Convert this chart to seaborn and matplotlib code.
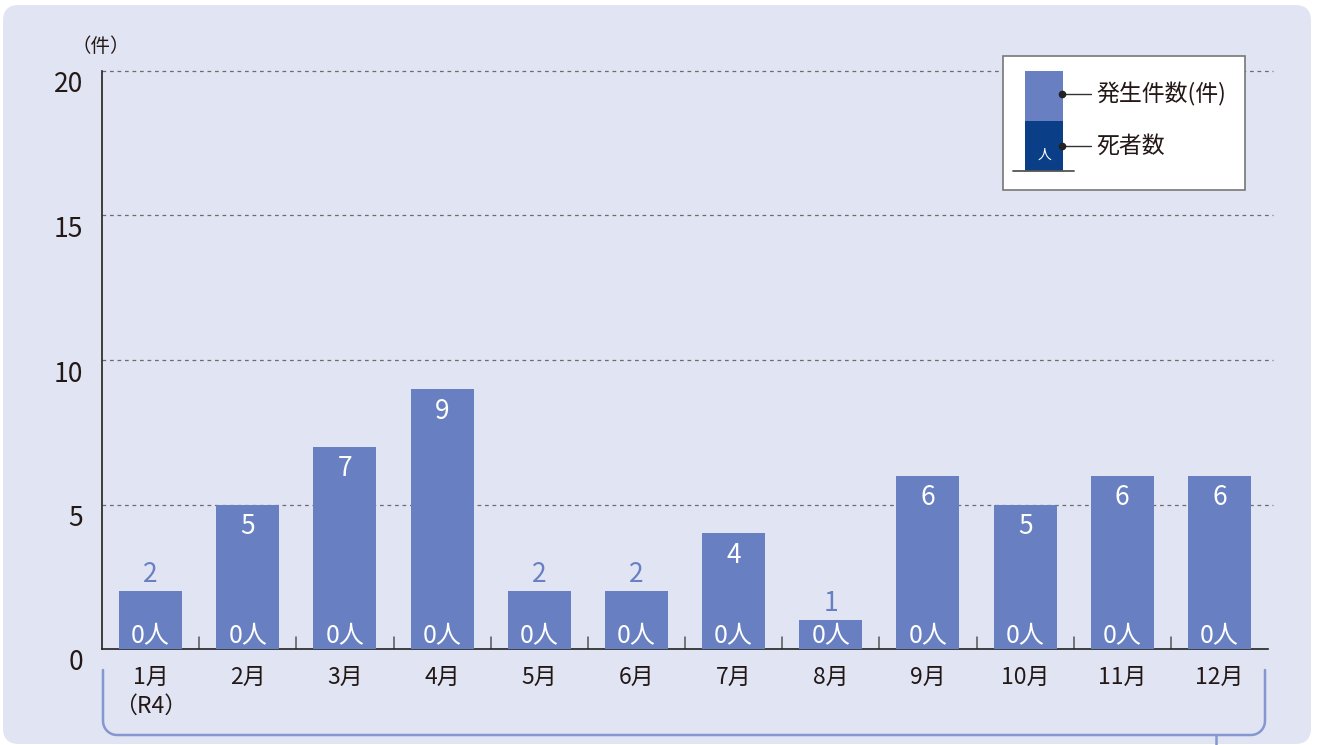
import matplotlib
matplotlib.use("Agg")
import matplotlib.pyplot as plt
import matplotlib.transforms as mtransforms
import seaborn as sns
import pandas as pd
import numpy as np
from matplotlib.patches import FancyBboxPatch, Rectangle
from matplotlib.lines import Line2D

months = ["1月", "2月", "3月", "4月", "5月", "6月", "7月", "8月", "9月", "10月", "11月", "12月"]
tick_labels = ["1月\n（R4）", "2月", "3月", "4月", "5月", "6月", "7月", "8月", "9月", "10月", "11月", "12月"]
cases = [2, 5, 7, 9, 2, 2, 4, 1, 6, 5, 6, 6]
deaths = [0, 0, 0, 0, 0, 0, 0, 0, 0, 0, 0, 0]
y_ticks = [0, 5, 10, 15, 20]

BG = "#e1e4f2"
BAR = "#687fc2"
DARK = "#0a3f87"
BRACKET = "#8597cf"
TXT = "#231815"

sns.set_theme(style="white")
plt.rcParams["font.family"] = ["Noto Sans CJK JP", "DejaVu Sans"]

W, H = 1317, 745
fig = plt.figure(figsize=(W / 100, H / 100), dpi=100)
fig.patch.set_facecolor("white")


def fx(x):
    return x / W


def fy(y):
    return 1 - y / H


# rounded panel background
panel = FancyBboxPatch((fx(3), fy(744)), 1308 / W, 739 / H,
                       boxstyle="round,pad=0,rounding_size=0.012",
                       transform=fig.transFigure, facecolor=BG, edgecolor="none",
                       mutation_aspect=W / H, zorder=-5)
fig.add_artist(panel)

ax_l, ax_r, ax_b, ax_t = 102, 1268, 649, 71
ax = fig.add_axes([ax_l / W, 1 - ax_b / H, (ax_r - ax_l) / W, (ax_b - ax_t) / H])
ax.set_facecolor("none")
ax.set_zorder(2)

df = pd.DataFrame({"month": months, "cases": cases})
sns.barplot(data=df, x="month", y="cases", color=BAR, saturation=1, width=0.65,
            ax=ax, zorder=3, edgecolor="none")

ax.set_xlim(-0.5, 11.5)
ax.set_ylim(0, 20)
ax.set_xlabel("")
ax.set_ylabel("")

# grid lines
for yv in y_ticks[1:]:
    ax.plot([-0.5, 11.55], [yv, yv], ls=(0, (3, 3)), color="#6d6d6d", lw=0.9,
            zorder=1, clip_on=False)

for s in ["top", "right"]:
    ax.spines[s].set_visible(False)
for s in ["left", "bottom"]:
    ax.spines[s].set_color("#222222")
    ax.spines[s].set_linewidth(1.2)

ax.set_yticks(y_ticks)
ax.set_yticklabels([str(v) for v in y_ticks], fontsize=19, color=TXT)
ax.tick_params(axis="y", length=0, pad=12)
offset = mtransforms.ScaledTranslation(-2 / 100, -11 / 100, fig.dpi_scale_trans)
for lbl in ax.get_yticklabels():
    lbl.set_transform(lbl.get_transform() + offset)

ax.set_xticks(range(12))
ax.set_xticklabels(tick_labels, fontsize=16.5, color=TXT, linespacing=1.35, va="top")
ax.tick_params(axis="x", length=0, pad=12)

# separator ticks between months
for xv in [i + 0.5 for i in range(11)]:
    ax.plot([xv, xv], [0, 0.42], color="#555555", lw=1.1, zorder=2)

# value labels
for i, (c, d) in enumerate(zip(cases, deaths)):
    if c >= 3:
        ax.text(i, c - 0.3, str(c), ha="center", va="top", color="white", fontsize=19, zorder=5)
    else:
        ax.text(i, c + 0.1, str(c), ha="center", va="bottom", color=BAR, fontsize=19, zorder=5)
    ax.text(i, 0.0, f"{d}人", ha="center", va="bottom", color="white", fontsize=18, zorder=5)

# unit label
fig.text(fx(101), fy(46), "（件）", ha="center", va="center", fontsize=14, color=TXT)

# bracket below
bx0, bx1, by_top, by_bot, r = 103, 1265, 670, 735, 14
pts = [(bx0, by_top), (bx0, by_bot - r)]
for t in np.linspace(np.pi, np.pi / 2, 12):
    pts.append((bx0 + r + r * np.cos(t), by_bot - r + r * np.sin(t)))
pts.append((bx1 - r, by_bot))
for t in np.linspace(np.pi / 2, 0, 12):
    pts.append((bx1 - r + r * np.cos(t), by_bot - r + r * np.sin(t)))
pts.append((bx1, by_top))
fig.add_artist(Line2D([fx(p[0]) for p in pts], [fy(p[1]) for p in pts],
                      color=BRACKET, lw=1.8, transform=fig.transFigure))
fig.add_artist(Line2D([fx(1216), fx(1216)], [fy(735), fy(748)], color=BRACKET, lw=1.8,
                      transform=fig.transFigure))

# legend box
fig.add_artist(Rectangle((fx(1003), fy(190)), 242 / W, 134 / H, transform=fig.transFigure,
                         facecolor="white", edgecolor="#777777", lw=1.2, zorder=6))
fig.add_artist(Rectangle((fx(1025), fy(121)), 38 / W, 50 / H, transform=fig.transFigure,
                         facecolor=BAR, edgecolor="none", zorder=7))
fig.add_artist(Rectangle((fx(1025), fy(171)), 38 / W, 50 / H, transform=fig.transFigure,
                         facecolor=DARK, edgecolor="none", zorder=7))
fig.add_artist(Line2D([fx(1013), fx(1074)], [fy(171), fy(171)], color="#555555", lw=1.3,
                      transform=fig.transFigure, zorder=8))
fig.text(fx(1044), fy(155), "人", ha="center", va="center", color="white", fontsize=10, zorder=9)
for yy, lab in [(94, "発生件数(件)"), (146, "死者数")]:
    fig.add_artist(Line2D([fx(1062), fx(1091)], [fy(yy), fy(yy)], color="#333333", lw=1.0,
                          transform=fig.transFigure, zorder=8))
    fig.add_artist(Line2D([fx(1062)], [fy(yy)], marker="o", ms=4.5, color="#222222",
                          transform=fig.transFigure, zorder=9))
    fig.text(fx(1096), fy(yy), lab, ha="left", va="center", fontsize=16.5, color=TXT, zorder=9)

fig.savefig("out.png", dpi=100, facecolor=fig.get_facecolor())
